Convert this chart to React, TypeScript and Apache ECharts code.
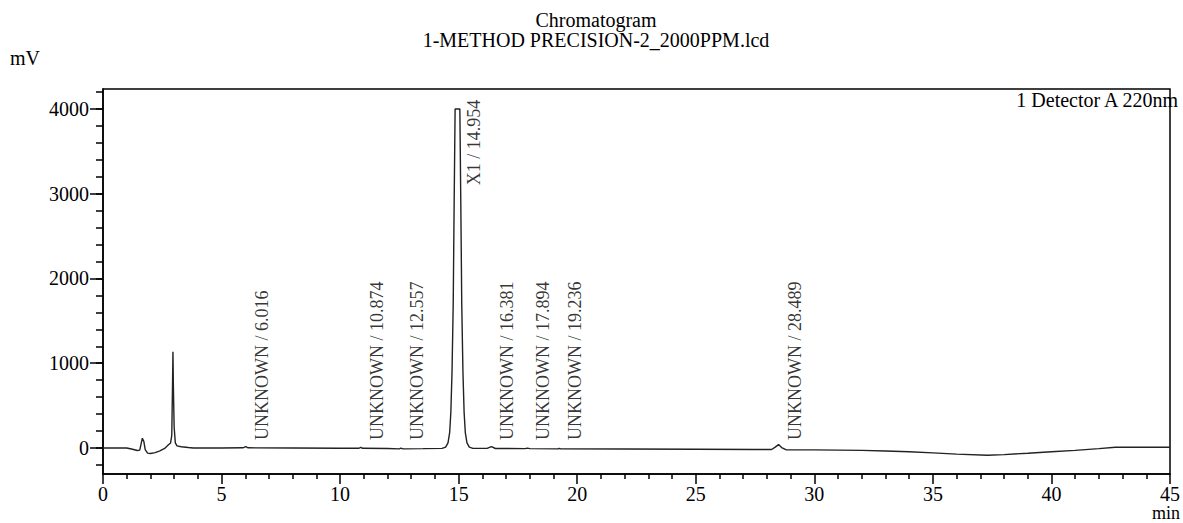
import React, { useEffect, useRef } from "react";
import * as echarts from "echarts";

// Retention time (min) and detector signal (mV)
const timeMin = [
  0.0, 0.5, 1.0, 1.2, 1.45, 1.55, 1.6, 1.66, 1.72, 1.78, 1.88, 2.0, 2.2, 2.4, 2.6, 2.75, 2.85, 2.9, 2.93, 2.95,
  2.97, 3.0, 3.05, 3.12, 3.3, 3.6, 3.8, 5.0, 5.9, 6.02, 6.12, 8.0, 10.0, 10.8, 10.87, 10.95, 12.0, 12.5, 12.56,
  12.65, 13.5, 14.3, 14.45, 14.55, 14.62, 14.67, 14.72, 14.77, 14.81, 14.85, 15.05, 15.09, 15.13, 15.18, 15.23,
  15.28, 15.35, 15.45, 15.6, 16.2, 16.38, 16.55, 17.8, 17.9, 18.0, 19.2, 19.24, 19.3, 22.0, 25.0, 27.5, 28.2,
  28.35, 28.49, 28.62, 28.8, 30.0, 31.0, 32.0, 33.0, 34.0, 35.0, 36.0, 37.3, 38.0, 39.0, 40.0, 41.0, 42.0, 42.7,
  45.0,
];
const signalMv = [
  0, 0, 0, -12, -30, -25, 40, 115, 80, -20, -60, -65, -55, -35, -5, 35, 60, 150, 700, 1136,
  700, 250, 60, 25, 15, 5, 0, 0, 2, 15, 2, 0, -3, -3, 8, -4, -6, -10, -2,
  -10, -8, -5, 10, 60, 180, 420, 900, 1700, 2900, 4000, 4000, 2900, 1700, 900, 420,
  180, 60, 10, -5, -5, 15, -6, -8, -2, -8, -10, -4, -10, -12, -15, -18, -18,
  10, 40, 5, -20, -22, -25, -28, -35, -45, -58, -72, -85, -78, -62, -45, -28, -8, 8,
  8,
];

// Peak annotations
const peakNames = ["UNKNOWN", "UNKNOWN", "UNKNOWN", "X1", "UNKNOWN", "UNKNOWN", "UNKNOWN", "UNKNOWN"];
const peakTimes = [6.016, 10.874, 12.557, 14.954, 16.381, 17.894, 19.236, 28.489];
const peakHeights = [15, 8, -2, 4000, 15, -2, -4, 40];

// Axis ticks
const yLabelTicks = [0, 1000, 2000, 3000, 4000];
const yMinorTicks = [-200, 0, 200, 400, 600, 800, 1000, 1200, 1400, 1600, 1800, 2000, 2200, 2400, 2600, 2800, 3000, 3200, 3400, 3600, 3800, 4000, 4200];

const FONT = '"Liberation Serif", "Times New Roman", serif';

export default function App() {
  const ref = useRef<HTMLDivElement>(null);

  useEffect(() => {
    if (!ref.current) return;
    const chart = echarts.init(ref.current, undefined, { renderer: "svg" });
    const trace = timeMin.map((t, i) => [t, signalMv[i]]);
    const labelPts = peakTimes.map((t, i) => ({
      value: [t, peakHeights[i] > 3000 ? 3100 : 95],
      name: peakNames[i] + " / " + t.toFixed(3),
    }));
    const yMin = -307;
    const yMax = 4236;

    chart.setOption({
      animation: false,
      backgroundColor: "#fff",
      grid: {
        left: 103,
        right: 3,
        top: 89,
        bottom: 49,
        show: true,
        borderColor: "#000",
        borderWidth: 1.5,
        backgroundColor: "transparent",
      },
      xAxis: [
        {
          type: "value",
          min: 0,
          max: 45,
          interval: 5,
          axisLine: { show: true, onZero: false, lineStyle: { color: "#000", width: 1.5 } },
          axisTick: { show: true, length: 10, lineStyle: { color: "#000", width: 1.5 } },
          minorTick: { show: true, splitNumber: 5, length: 5, lineStyle: { color: "#000", width: 1.5 } },
          axisLabel: { color: "#000", fontFamily: FONT, fontSize: 20, margin: 10, formatter: (v: number) => String(v) },
          splitLine: { show: false },
        },
      ],
      yAxis: [
        {
          type: "value",
          min: yMin,
          max: yMax,
          position: "left",
          axisLine: { show: true, onZero: false, lineStyle: { color: "#000", width: 1.5 } },
          axisTick: { show: true, length: 13, customValues: yLabelTicks, lineStyle: { color: "#000", width: 1.5 } },
          axisLabel: {
            color: "#000",
            fontFamily: FONT,
            fontSize: 20,
            margin: 14,
            customValues: yLabelTicks,
            formatter: (v: number) => String(v),
          },
          splitLine: { show: false },
        },
        {
          type: "value",
          min: yMin,
          max: yMax,
          position: "left",
          offset: 0,
          axisLine: { show: false },
          axisTick: { show: true, length: 7, customValues: yMinorTicks, lineStyle: { color: "#000", width: 1.5 } },
          axisLabel: { show: false },
          splitLine: { show: false },
        },
      ],
      graphic: [
        {
          type: "text",
          x: 596,
          y: 20,
          style: { text: "Chromatogram", font: `20px ${FONT}`, fill: "#000", textAlign: "center", textVerticalAlign: "middle" },
        },
        {
          type: "text",
          x: 596,
          y: 40,
          style: {
            text: "1-METHOD PRECISION-2_2000PPM.lcd",
            font: `20px ${FONT}`,
            fill: "#000",
            textAlign: "center",
            textVerticalAlign: "middle",
          },
        },
        {
          type: "text",
          x: 10,
          y: 58,
          style: { text: "mV", font: `20px ${FONT}`, fill: "#000", textAlign: "left", textVerticalAlign: "middle" },
        },
        {
          type: "text",
          x: 1180,
          y: 513,
          style: { text: "min", font: `18px ${FONT}`, fill: "#000", textAlign: "right", textVerticalAlign: "middle" },
        },
        {
          type: "text",
          x: 1178,
          y: 100,
          style: { text: "1 Detector A 220nm", font: `20px ${FONT}`, fill: "#000", textAlign: "right", textVerticalAlign: "middle" },
        },
      ],
      series: [
        {
          type: "line",
          data: trace,
          showSymbol: false,
          symbol: "none",
          lineStyle: { color: "#222", width: 1.4 },
          xAxisIndex: 0,
          yAxisIndex: 0,
          silent: true,
        },
        {
          type: "scatter",
          data: labelPts,
          symbolSize: 0,
          xAxisIndex: 0,
          yAxisIndex: 0,
          silent: true,
          label: {
            show: true,
            formatter: (p: any) => p.name,
            position: [16, 0],
            rotate: 90,
            align: "left",
            verticalAlign: "middle",
            color: "#000",
            fontFamily: FONT,
            fontSize: 18,
          },
        },
      ],
    });
    return () => chart.dispose();
  }, []);

  return <div ref={ref} style={{ position: "fixed", left: 0, top: 0, width: 1183, height: 523 }} />;
}
